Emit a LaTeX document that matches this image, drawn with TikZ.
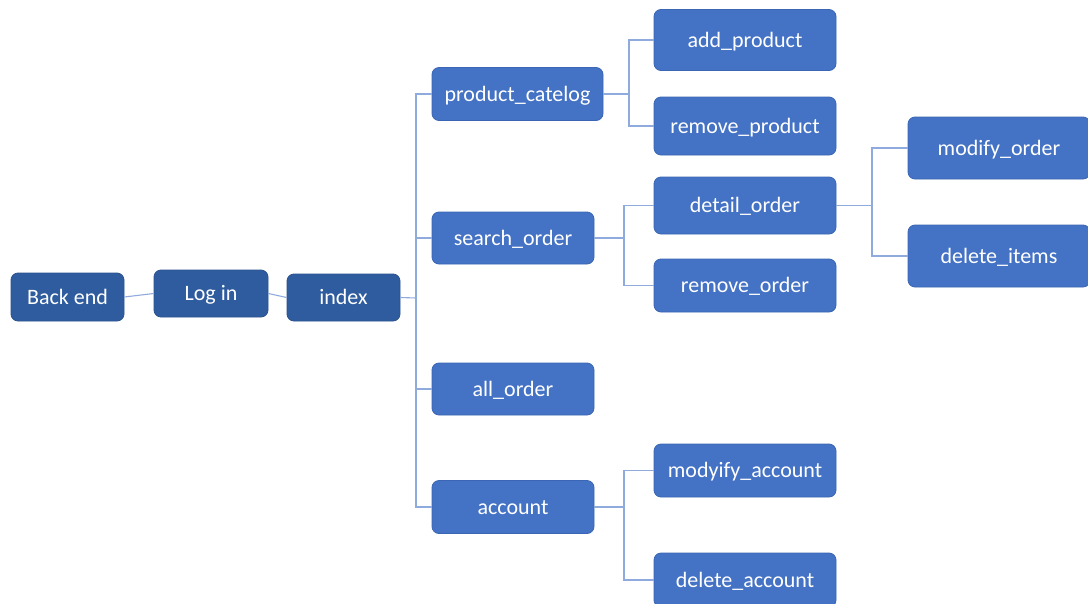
\documentclass[tikz,border=0pt]{standalone}
\usepackage{fontspec}
\setmainfont{Carlito}
\definecolor{boxblue}{HTML}{4472C4}
\definecolor{boxedge}{HTML}{3A66B4}
\definecolor{darkblue}{HTML}{2F5C9E}
\definecolor{darkedge}{HTML}{2A5290}
\definecolor{linkblue}{HTML}{8FAADC}
\begin{document}
\begin{tikzpicture}[x=1pt,y=-1pt,
  box/.style={rounded corners=7pt, fill=boxblue, draw=boxedge, line width=0.8pt,
    text=white, font=\fontsize{22}{26}\selectfont, inner sep=0pt, anchor=center,
    text height=14pt, text depth=0pt},
  darkbox/.style={box, fill=darkblue, draw=darkedge},
  link/.style={draw=linkblue, line width=1.1pt}]
\useasboundingbox (0,0) rectangle (1088,603);
\fill[white] (0,0) rectangle (1088,603);
% nodes
\node[darkbox, minimum width=113pt, minimum height=48pt] (be) at (67.5,297) {Back end};
\node[darkbox, minimum width=114pt, minimum height=47pt] (li) at (211,293.5) {Log in};
\node[darkbox, minimum width=113pt, minimum height=47pt] (ix) at (343.5,297.5) {index};
\node[box, minimum width=171pt, minimum height=53pt] (pc) at (517.5,94) {product\_catelog};
\node[box, minimum width=162pt, minimum height=52pt] (so) at (513,238) {search\_order};
\node[box, minimum width=162pt, minimum height=52pt] (ao) at (513,389) {all\_order};
\node[box, minimum width=162pt, minimum height=53pt] (ac) at (513,507) {account};
\node[box, minimum width=182pt, minimum height=61pt] (ap) at (745,40) {add\_product};
\node[box, minimum width=182pt, minimum height=58pt] (rp) at (745,126) {remove\_product};
\node[box, minimum width=182pt, minimum height=57pt] (do) at (745,205.5) {detail\_order};
\node[box, minimum width=182pt, minimum height=53pt] (ro) at (745,285.5) {remove\_order};
\node[box, minimum width=182pt, minimum height=62pt] (mo) at (999,148) {modify\_order};
\node[box, minimum width=182pt, minimum height=62pt] (di) at (999,256) {delete\_items};
\node[box, minimum width=182pt, minimum height=53pt] (ma) at (745,470.5) {modyify\_account};
\node[box, minimum width=182pt, minimum height=54pt] (da) at (745,580) {delete\_account};
% junctions
\coordinate (bus) at (416,298);
\coordinate (j1) at (629,94);
\coordinate (j2) at (624,238);
\coordinate (j3) at (872,205.5);
\coordinate (j4) at (624,507);
% connectors
\draw[link] (be.east) -- (li.west);
\draw[link] (li.east) -- (ix.west);
\draw[link] (ix.east) -- (bus);
\draw[link] (pc.west) -| (bus);
\draw[link] (so.west) -| (bus);
\draw[link] (ao.west) -| (bus);
\draw[link] (ac.west) -| (bus);
\draw[link] (pc.east) -- (j1);
\draw[link] (j1) |- (ap.west);
\draw[link] (j1) |- (rp.west);
\draw[link] (so.east) -- (j2);
\draw[link] (j2) |- (do.west);
\draw[link] (j2) |- (ro.west);
\draw[link] (do.east) -- (j3);
\draw[link] (j3) |- (mo.west);
\draw[link] (j3) |- (di.west);
\draw[link] (ac.east) -- (j4);
\draw[link] (j4) |- (ma.west);
\draw[link] (j4) |- (da.west);
\end{tikzpicture}
\end{document}
